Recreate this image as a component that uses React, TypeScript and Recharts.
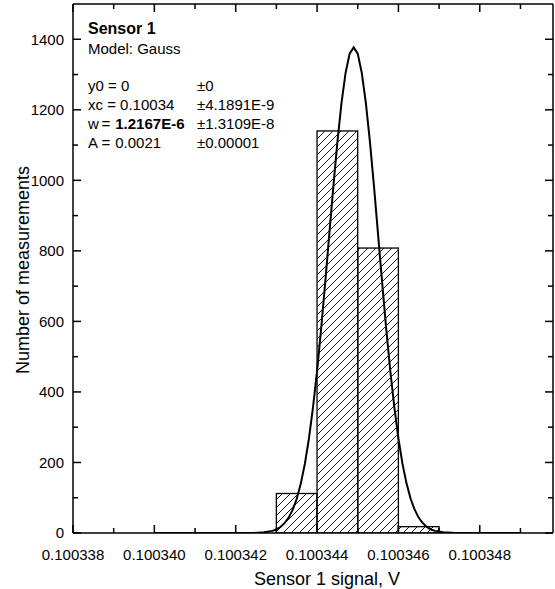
import { ComposedChart, Bar, Line, XAxis, YAxis } from 'recharts';

// histogram bins (centre of each 1e-6 V bin) and counts
const binCenters = [0.1003435, 0.1003445, 0.1003455, 0.1003465];
const binCounts = [112, 1140, 808, 18];
const BIN_WIDTH = 1e-6;

// Gauss fit curve
const curveX = [
  0.10034, 0.1003424, 0.1003427, 0.1003429, 0.100343, 0.1003431, 0.1003432, 0.1003433, 0.1003434,
  0.1003435, 0.1003436, 0.1003437, 0.1003438, 0.1003439, 0.100344, 0.1003441, 0.1003442, 0.1003443,
  0.1003444, 0.1003445, 0.1003446, 0.1003447, 0.1003448, 0.1003449, 0.100345, 0.1003451, 0.1003452,
  0.1003453, 0.1003454, 0.1003455, 0.1003456, 0.1003457, 0.1003458, 0.1003459, 0.100346, 0.1003461,
  0.1003462, 0.1003463, 0.1003464, 0.1003465, 0.1003466, 0.1003467, 0.1003468, 0.1003469, 0.1003471,
  0.1003474, 0.100349,
];
const curveY = [
  0, 0, 2, 6, 10, 17, 28, 43, 66,
  97, 140, 196, 268, 356, 460, 579, 710, 846,
  982, 1109, 1219, 1304, 1359, 1377, 1359, 1304, 1219,
  1109, 982, 846, 710, 579, 460, 356, 268, 196,
  140, 97, 66, 43, 28, 17, 10, 6, 2,
  0, 0,
];

const xTicks = [
  0.100338, 0.100339, 0.10034, 0.100341, 0.100342, 0.100343, 0.100344, 0.100345, 0.100346, 0.100347,
  0.100348, 0.100349,
];
const yTicks = [0, 100, 200, 300, 400, 500, 600, 700, 800, 900, 1000, 1100, 1200, 1300, 1400];

const X_DOMAIN = [0.100338, 0.1003498];
const Y_DOMAIN = [0, 1500];

const PLOT_W = 480; // 555 - 73 (left axis) - 2 (right axis)
const binPx = (PLOT_W * BIN_WIDTH) / (X_DOMAIN[1] - X_DOMAIN[0]);

const FONT = "Arial, 'Liberation Sans', Helvetica, sans-serif";

const bins = binCenters.map((x, i) => ({ x, count: binCounts[i] }));
const curve = curveX.map((x, i) => ({ x, y: curveY[i] }));

const isMajorX = (v: number) => Math.round((v - 0.100338) * 1e6) % 2 === 0;
const isMajorY = (v: number) => v % 200 === 0;

// bar is centred on the bin value by recharts; widen it to the full bin
function HistBar({ x, y, width, height }: any) {
  const cx = x + width / 2;
  return (
    <rect
      x={cx - binPx / 2}
      y={y}
      width={binPx}
      height={height}
      fill="url(#hatch)"
      stroke="#000"
      strokeWidth={1.3}
    />
  );
}

function BottomTick({ x, y, payload }: any) {
  const major = isMajorX(payload.value);
  return (
    <g>
      <line x1={x} y1={y} x2={x} y2={y - (major ? 8 : 5)} stroke="#000" strokeWidth={1.5} />
      {major && (
        <text x={x} y={y + 26.5} textAnchor="middle" fontSize={15} fontFamily={FONT} fill="#000">
          {payload.value.toFixed(6)}
        </text>
      )}
    </g>
  );
}

function TopTick({ x, y, payload }: any) {
  const major = isMajorX(payload.value);
  return <line x1={x} y1={y} x2={x} y2={y + (major ? 8 : 5)} stroke="#000" strokeWidth={1.5} />;
}

function LeftTick({ x, y, payload }: any) {
  const major = isMajorY(payload.value);
  return (
    <g>
      <line x1={x} y1={y} x2={x + (major ? 8 : 5)} y2={y} stroke="#000" strokeWidth={1.5} />
      {major && (
        <text x={x - 9} y={y + 5.4} textAnchor="end" fontSize={15} fontFamily={FONT} fill="#000">
          {payload.value}
        </text>
      )}
    </g>
  );
}

function RightTick({ x, y, payload }: any) {
  const major = isMajorY(payload.value);
  return <line x1={x} y1={y} x2={x - (major ? 8 : 5)} y2={y} stroke="#000" strokeWidth={1.5} />;
}

const axisLine = { stroke: '#000', strokeWidth: 1.5 };

export default function App() {
  return (
    <div style={{ position: 'absolute', left: 0, top: 0, width: 555, height: 589, background: '#fff' }}>
      <svg width={0} height={0} style={{ position: 'absolute' }}>
        <defs>
          <pattern id="hatch" patternUnits="userSpaceOnUse" width={8} height={8}>
            <path d="M0,8 L8,0 M-2,2 L2,-2 M6,10 L10,6" stroke="#000" strokeWidth={0.9} />
          </pattern>
        </defs>
      </svg>
      <ComposedChart
        width={555}
        height={589}
        data={bins}
        margin={{ top: 0, right: 0, bottom: 0, left: 0 }}
        barCategoryGap={0}
        barGap={0}
      >
        <XAxis
          dataKey="x"
          type="number"
          domain={X_DOMAIN}
          allowDataOverflow
          ticks={xTicks}
          interval={0}
          height={56}
          tickSize={0}
          tickMargin={0}
          axisLine={axisLine}
          tickLine={false}
          tick={(p: any) => <BottomTick {...p} />}
        />
        <XAxis
          xAxisId="top"
          orientation="top"
          dataKey="x"
          type="number"
          domain={X_DOMAIN}
          allowDataOverflow
          ticks={xTicks}
          interval={0}
          height={4}
          tickSize={0}
          tickMargin={0}
          axisLine={axisLine}
          tickLine={false}
          tick={(p: any) => <TopTick {...p} />}
        />
        <YAxis
          type="number"
          domain={Y_DOMAIN}
          allowDataOverflow
          ticks={yTicks}
          interval={0}
          width={73}
          tickSize={0}
          tickMargin={0}
          axisLine={axisLine}
          tickLine={false}
          tick={(p: any) => <LeftTick {...p} />}
        />
        <YAxis
          yAxisId="right"
          orientation="right"
          type="number"
          domain={Y_DOMAIN}
          allowDataOverflow
          ticks={yTicks}
          interval={0}
          width={2}
          tickSize={0}
          tickMargin={0}
          axisLine={axisLine}
          tickLine={false}
          tick={(p: any) => <RightTick {...p} />}
        />
        <Bar dataKey="count" shape={(p: any) => <HistBar {...p} />} isAnimationActive={false} />
        <Line
          data={curve}
          dataKey="y"
          type="linear"
          stroke="#000"
          strokeWidth={2}
          dot={false}
          activeDot={false}
          isAnimationActive={false}
        />
      </ComposedChart>
      <svg
        width={555}
        height={589}
        style={{ position: 'absolute', left: 0, top: 0, pointerEvents: 'none' }}
        fontFamily={FONT}
        fill="#000"
      >
        <text x={88} y={34} fontSize={16} fontWeight="bold">Sensor 1</text>
        <text x={88} y={54} fontSize={15}>Model: Gauss</text>
        <text x={88} y={91} fontSize={15}>y0 = 0</text>
        <text x={197} y={91} fontSize={15}>±0</text>
        <text x={88} y={110} fontSize={15}>xc = 0.10034</text>
        <text x={197} y={110} fontSize={15}>±4.1891E-9</text>
        <text x={88} y={129} fontSize={15}>
          <tspan>w</tspan>
          <tspan x={101.5}>=</tspan>
          <tspan dx={5} fontWeight="bold">1.2167E-6</tspan>
        </text>
        <text x={197} y={129} fontSize={15}>±1.3109E-8</text>
        <text x={88} y={147.5} fontSize={15}>
          <tspan>A</tspan>
          <tspan x={101.5}>=</tspan>
          <tspan dx={5}>0.0021</tspan>
        </text>
        <text x={197} y={147.5} fontSize={15}>±0.00001</text>
        <text x={327} y={585} fontSize={18} textAnchor="middle">Sensor 1 signal, V</text>
        <text transform="translate(29,270) rotate(-90)" fontSize={18} textAnchor="middle">
          Number of measurements
        </text>
      </svg>
    </div>
  );
}
